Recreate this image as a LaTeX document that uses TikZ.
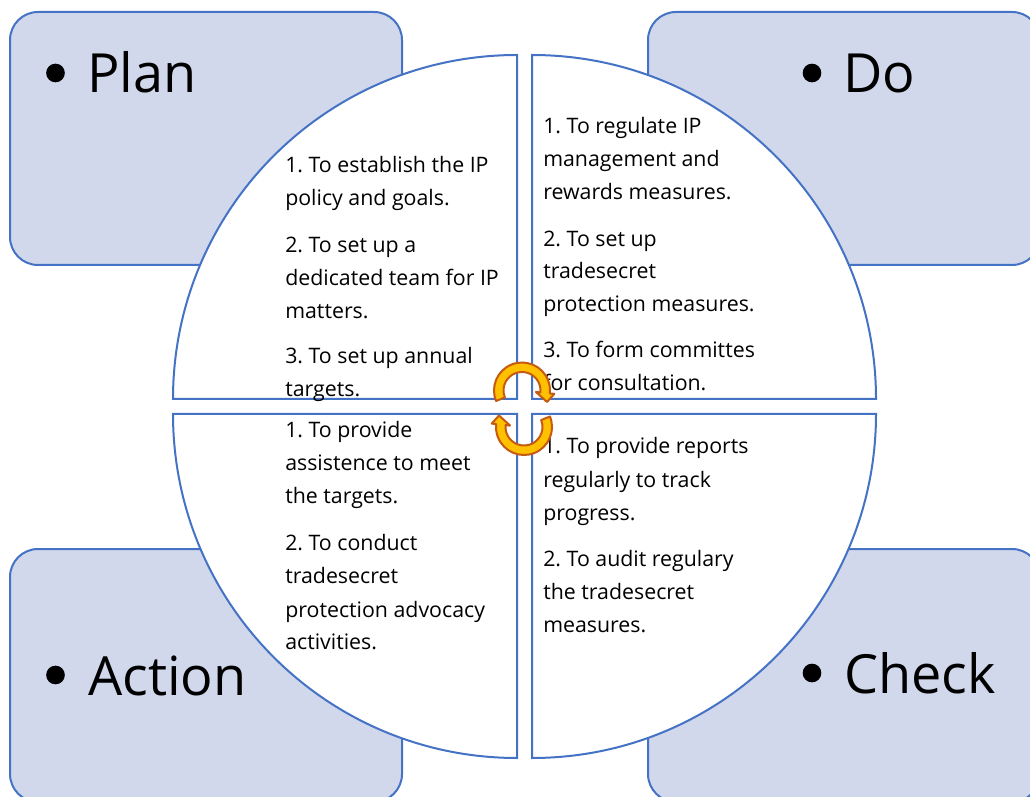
\documentclass[tikz,border=0pt]{standalone}
\usepackage{fontspec}
\setmainfont{Open Sans}
\frenchspacing
\definecolor{boxfill}{HTML}{D1D8EC}
\definecolor{boxline}{HTML}{4472C4}
\definecolor{arrfill}{HTML}{FFC000}
\definecolor{arrline}{HTML}{C55A11}
\begin{document}
\begin{tikzpicture}[x=0.75pt,y=0.75pt,
  phase/.style={draw=boxline, fill=boxfill, line width=1.5pt, rounded corners=21pt},
  quad/.style={draw=boxline, fill=white, line width=1.5pt},
  item/.style={anchor=base west, inner sep=0pt, font=\fontsize{16}{20}\selectfont},
  title/.style={anchor=base west, inner sep=0pt, font=\fontsize{40.5}{46}\selectfont},
  dot/.style={circle, fill=black, inner sep=0pt, minimum size=14pt},
  cyc/.style={draw=arrline, fill=arrfill, line width=1.5pt, line join=round}]
\useasboundingbox (0,0) rectangle (1030,796);
\clip (0,0) rectangle (1030,796);
% corner boxes
\path[phase] (10,531) rectangle (402,784);
\path[phase] (648,531) rectangle (1040,784);
\path[phase] (10,-6) rectangle (402,247);
\path[phase] (648,-6) rectangle (1040,247);
% titles
\node[dot] (planb) at (55.5,723) {};
\node[title] (plan) at (87,703) {Plan};
\node[dot] (dob) at (812,723) {};
\node[title] (do) at (843,703) {Do};
\node[dot] (actb) at (55.5,121) {};
\node[title] (act) at (88,101) {Action};
\node[dot] (chkb) at (812,123) {};
\node[title] (chk) at (844,103) {Check};
% quadrants
\path[quad] (517,397) -- (173,397) arc[start angle=180, end angle=90, radius=258pt] -- cycle;
\path[quad] (532,397) -- (532,741) arc[start angle=90, end angle=0, radius=258pt] -- cycle;
\path[quad] (517,382) -- (173,382) arc[start angle=180, end angle=270, radius=258pt] -- cycle;
\path[quad] (532,382) -- (876,382) arc[start angle=0, end angle=-90, radius=258pt] -- cycle;
% texts
\foreach \t/\y [count=\i] in {{1. To establish the IP}/623, {policy and goals.}/590,
  {2. To set up a}/543, {dedicated team for IP}/510, {matters.}/477,
  {3. To set up annual}/432, {targets.}/399}
  \node[item, name=tl\i] at (285,\y) {\t};
\foreach \t/\y [count=\i] in {{1. To regulate IP}/662, {management and}/629,
  {rewards measures.}/596, {2. To set up}/549, {tradesecret}/517,
  {protection measures.}/484, {3. To form committes}/438, {for consultation.}/405}
  \node[item, name=tr\i] at (543,\y) {\t};
\foreach \t/\y [count=\i] in {{1. To provide}/358, {assistence to meet}/325,
  {the targets.}/292, {2. To conduct}/246, {tradesecret}/213,
  {protection advocacy}/179, {activities.}/147}
  \node[item, name=bl\i] at (285,\y) {\t};
\foreach \t/\y [count=\i] in {{1. To provide reports}/342, {regularly to track}/308,
  {progress.}/276, {2. To audit regulary}/229, {the tradesecret}/197,
  {measures.}/164}
  \node[item, name=br\i] at (543,\y) {\t};
% cycle arrows
\begin{scope}[shift={(522,405.5)}]
\path[cyc] (202:28) arc[start angle=202, end angle=-6, radius=21pt]
  -- (-6:32.5) -- (25,-11.5) -- (-6:14) -- (-6:18.5)
  arc[start angle=-6, end angle=202, radius=13.875pt] -- cycle;
\end{scope}
\begin{scope}[shift={(524,369)}, rotate=180]
\path[cyc] (202:28) arc[start angle=202, end angle=-6, radius=21pt]
  -- (-6:32.5) -- (25,-11.5) -- (-6:14) -- (-6:18.5)
  arc[start angle=-6, end angle=202, radius=13.875pt] -- cycle;
\end{scope}
\end{tikzpicture}
\end{document}
